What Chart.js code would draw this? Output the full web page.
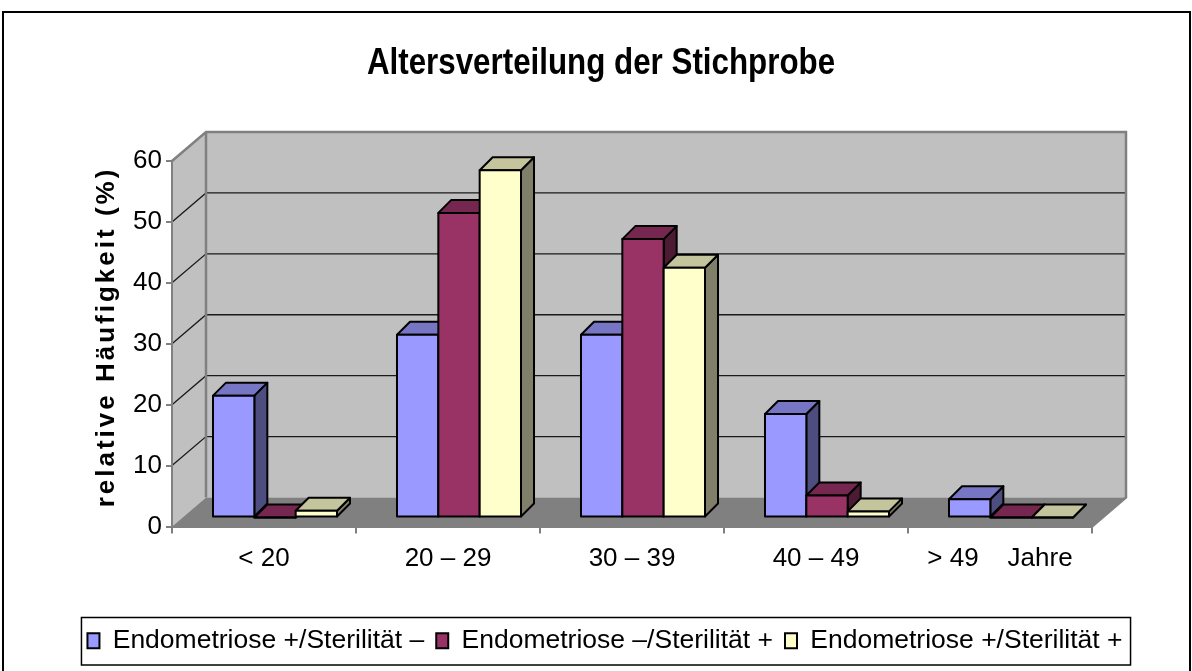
<!DOCTYPE html>
<html>
<head>
<meta charset="utf-8">
<title>Altersverteilung der Stichprobe</title>
<script src="https://cdn.jsdelivr.net/npm/chart.js@4/dist/chart.umd.min.js"></script>
<style>
  body { margin: 0; background: #fff; }
  canvas { display: block; }
</style>
</head>
<body>
<canvas id="ageChart" width="1192" height="671"></canvas>
<script>
const chartTitle = 'Altersverteilung der Stichprobe';
const yAxisTitle = 'relative Häufigkeit (%)';
const categories = ['< 20', '20 – 29', '30 – 39', '40 – 49', '> 49    Jahre'];
const seriesNames = ['Endometriose +/Sterilität –', 'Endometriose –/Sterilität +', 'Endometriose +/Sterilität +'];
const endoPosSterNeg = [20, 30, 30, 17, 3];
const endoNegSterPos = [0, 50, 45.7, 3.6, 0];
const endoPosSterPos = [1.1, 57, 41, 1, 0];
const yTicks = [0, 10, 20, 30, 40, 50, 60];

// front, top, side colours of each series
const frontColors = ['#9999FF', '#993366', '#FFFFCC'];
const topColors = ['#7676C4', '#76274F', '#C4C49D'];
const sideColors = ['#4D4D80', '#4D1A33', '#80806A'];

const font = 'Liberation Sans, Arial, sans-serif';
const wallDepth = { dx: 34, dy: -29 };
const barShift = { dx: 11, dy: -9 };
const barDepth = { dx: 13, dy: -13 };

const ctx = document.getElementById('ageChart').getContext('2d');

function poly(c, pts, fill, stroke, width) {
    c.beginPath();
    c.moveTo(pts[0][0], pts[0][1]);
    for (let i = 1; i < pts.length; i++) c.lineTo(pts[i][0], pts[i][1]);
    c.closePath();
    if (fill) { c.fillStyle = fill; c.fill(); }
    if (stroke) { c.strokeStyle = stroke; c.lineWidth = width; c.stroke(); }
}

const wallsPlugin = {
    id: 'walls',
    beforeDraw(chart) {
        const c = chart.ctx;
        const a = chart.chartArea;
        const y = chart.scales.y;
        const L = a.left, R = a.right;
        const T = y.getPixelForValue(yTicks[yTicks.length - 1]);
        const B = y.getPixelForValue(0);
        const dx = wallDepth.dx, dy = wallDepth.dy;
        c.save();
        // outer frame
        c.strokeStyle = '#000';
        c.lineWidth = 2;
        c.strokeRect(3, 12, 1187, 700);
        // side wall, back wall, floor
        poly(c, [[L, T], [L + dx, T + dy], [L + dx, B + dy], [L, B]], '#C0C0C0');
        poly(c, [[L + dx, T + dy], [R + dx, T + dy], [R + dx, B + dy], [L + dx, B + dy]], '#C0C0C0');
        poly(c, [[L, B], [R, B], [R + dx, B + dy], [L + dx, B + dy]], '#808080');
        // gridlines
        c.strokeStyle = '#1a1a1a';
        c.lineWidth = 1.3;
        yTicks.slice(1, -1).forEach(v => {
            const p = y.getPixelForValue(v);
            c.beginPath();
            c.moveTo(L, p);
            c.lineTo(L + dx, p + dy);
            c.lineTo(R + dx, p + dy);
            c.stroke();
        });
        // wall edges
        c.strokeStyle = '#808080';
        c.lineWidth = 2.5;
        c.beginPath();
        c.moveTo(L, T);
        c.lineTo(L + dx, T + dy);
        c.lineTo(R + dx, T + dy);
        c.lineTo(R + dx, B + dy);
        c.lineTo(R, B);
        c.moveTo(L + dx, T + dy);
        c.lineTo(L + dx, B + dy);
        c.stroke();
        c.restore();
    },
    beforeDatasetsDraw(chart) {
        const c = chart.ctx;
        c.save();
        c.lineJoin = 'round';
        categories.forEach((cat, j) => {
            chart.data.datasets.forEach((ds, i) => {
                const el = chart.getDatasetMeta(i).data[j];
                const x0 = el.x - el.width / 2 + barShift.dx;
                const x1 = el.x + el.width / 2 + barShift.dx;
                const yt = el.y + barShift.dy;
                const yb = el.base + barShift.dy;
                const bx = barDepth.dx, by = barDepth.dy;
                poly(c, [[x1, yb], [x1 + bx, yb + by], [x1 + bx, yt + by], [x1, yt]], sideColors[i], '#000', 2);
                poly(c, [[x0, yt], [x0 + bx, yt + by], [x1 + bx, yt + by], [x1, yt]], topColors[i], '#000', 2);
                poly(c, [[x0, yt], [x1, yt], [x1, yb], [x0, yb]], frontColors[i], '#000', 2);
            });
        });
        c.restore();
        return false;
    },
    afterDraw(chart) {
        const c = chart.ctx;
        // legend frame
        const boxes = chart.legend.legendHitBoxes;
        const first = boxes[0], last = boxes[boxes.length - 1];
        c.save();
        c.strokeStyle = '#000';
        c.lineWidth = 1.5;
        c.strokeRect(first.left - 6, chart.legend.top + 2, last.left + last.width + 8 - (first.left - 6), chart.legend.height - 1);
        c.restore();

        // chart title, a little condensed
        c.save();
        c.fillStyle = '#000';
        c.font = 'bold 36px ' + font;
        c.textAlign = 'center';
        c.textBaseline = 'alphabetic';
        c.translate(chart.width / 2 + 5, 74);
        c.scale(0.87, 1);
        c.fillText(chartTitle, 0, 0);
        c.restore();

        // y axis title with letter spacing
        c.save();
        c.translate(107, 337);
        c.rotate(-Math.PI / 2);
        c.font = 'bold 26px ' + font;
        c.letterSpacing = '3px';
        c.fillStyle = '#000';
        c.textAlign = 'center';
        c.textBaseline = 'middle';
        c.fillText(yAxisTitle, 0, 0);
        c.restore();
    }
};

const ageChart = new Chart(ctx, {
    type: 'bar',
    data: {
        labels: categories,
        datasets: [endoPosSterNeg, endoNegSterPos, endoPosSterPos].map((values, i) => ({
            label: seriesNames[i],
            data: values,
            backgroundColor: frontColors[i],
            borderColor: '#000',
            borderWidth: 2,
            categoryPercentage: 0.674,
            barPercentage: 1
        }))
    },
    options: {
        responsive: false,
        animation: false,
        layout: { padding: { left: 20, right: 2, top: 161, bottom: 7 } },
        plugins: {
            title: { display: false },
            legend: {
                position: 'bottom',
                labels: {
                    color: '#000',
                    font: { family: font, size: 26.5 },
                    boxWidth: 12,
                    boxHeight: 15,
                    padding: 12
                }
            },
            tooltip: { enabled: false }
        },
        scales: {
            x: {
                offset: true,
                grid: { display: true, drawOnChartArea: false, offset: true, tickLength: 7, color: '#808080', lineWidth: 2 },
                border: { display: true, color: '#808080', width: 2 },
                ticks: { color: '#000', font: { family: font, size: 26 }, padding: 10, maxRotation: 0, autoSkip: false },
                afterFit: s => { s.height = 89; }
            },
            y: {
                min: 0,
                max: 60,
                ticks: { stepSize: 10, color: '#000', font: { family: font, size: 26 }, padding: 4 },
                grid: { display: true, drawOnChartArea: false, tickLength: 6, color: '#808080', lineWidth: 2 },
                border: { display: true, color: '#808080', width: 2 },
                afterFit: s => { s.width = 152; }
            },
            yRight: {
                type: 'linear',
                position: 'right',
                ticks: { display: false },
                grid: { display: false },
                border: { display: false },
                afterFit: s => { s.width = 98; }
            }
        }
    },
    plugins: [wallsPlugin]
});
</script>
</body>
</html>
